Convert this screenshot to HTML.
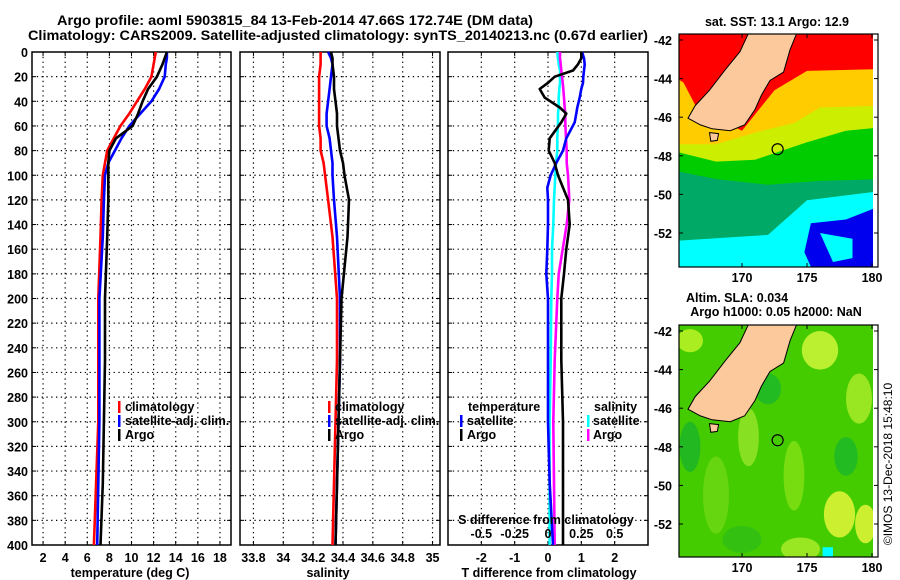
<!DOCTYPE html>
<html><head><meta charset="utf-8"><style>
body{margin:0;background:#fff}
svg{display:block;font-family:"Liberation Sans",sans-serif;font-weight:bold}
</style></head><body>
<svg id="fig" width="900" height="580" viewBox="0 0 900 580" xmlns="http://www.w3.org/2000/svg">
<rect width="900" height="580" fill="#fff"/>
<text x="295" y="25" font-size="13.5" text-anchor="middle" textLength="476" lengthAdjust="spacingAndGlyphs">Argo profile: aoml 5903815_84 13-Feb-2014 47.66S 172.74E (DM data)</text>
<text x="338" y="40" font-size="13.5" text-anchor="middle" textLength="620" lengthAdjust="spacingAndGlyphs">Climatology: CARS2009. Satellite-adjusted climatology: synTS_20140213.nc (0.67d earlier)</text>
</svg>
<script>
const depths=[0,5,10,20,30,40,50,60,70,80,90,100,120,150,200,250,300,350,400];
const tClim=[12.2,12.1,12.0,11.8,11.2,10.5,9.8,9.0,8.4,7.8,7.6,7.4,7.3,7.2,7.0,7.0,7.0,6.8,6.6];
const tSat=[13.2,13.2,13.1,13.0,12.5,11.8,10.8,9.8,9.1,8.5,7.9,7.6,7.5,7.4,7.1,7.1,7.1,7.0,6.9];
const tArgo=[13.2,13.0,12.8,12.3,11.5,11.0,10.6,10.1,8.6,8.0,7.9,7.9,7.9,7.8,7.6,7.6,7.5,7.4,7.2];
const sClim=[34.25,34.25,34.25,34.24,34.24,34.24,34.24,34.24,34.25,34.25,34.27,34.28,34.30,34.33,34.36,34.36,34.35,34.34,34.33];
const sSat=[34.30,34.32,34.33,34.32,34.31,34.30,34.29,34.29,34.31,34.32,34.33,34.33,34.34,34.36,34.38,34.38,34.37,34.36,34.35];
const sArgo=[34.32,34.33,34.33,34.34,34.34,34.35,34.36,34.36,34.37,34.38,34.40,34.41,34.44,34.43,34.39,34.38,34.37,34.36,34.35];
const dDepths=[0,5,10,15,20,25,30,37,45,50,57,70,80,90,100,110,120,140,160,180,200,250,300,350,400];
const dTArgo=[1.0,1.0,0.9,0.75,0.2,0,-0.25,-0.1,0.35,0.55,0.4,0.05,0.02,0.2,0.3,0.45,0.6,0.65,0.55,0.48,0.4,0.4,0.45,0.45,0.45];
const dTSat=[1.02,1.08,1.1,1.08,1.06,1.05,1.0,0.95,0.88,0.85,0.8,0.55,0.45,0.25,0.08,-0.02,0,0,-0.02,-0.05,0.0,0.0,0.0,0.05,0.15];
const dSArgo=[0.09,0.09,0.095,0.1,0.105,0.11,0.115,0.12,0.125,0.13,0.13,0.135,0.14,0.14,0.15,0.155,0.16,0.14,0.11,0.08,0.07,0.05,0.04,0.045,0.05];
const dSSat=[0.07,0.075,0.08,0.09,0.09,0.09,0.085,0.08,0.08,0.075,0.075,0.07,0.07,0.06,0.055,0.05,0.045,0.04,0.03,0.03,0.025,0.02,0.012,0.012,0.012];
const depthTicks=[0,20,40,60,80,100,120,140,160,180,200,220,240,260,280,300,320,340,360,380,400];
const tTicks=[2,4,6,8,10,12,14,16,18];
const sTicks=["33.8","34","34.2","34.4","34.6","34.8","35"];
const dTTicks=[-2,-1,0,1,2];
const dSTicks=["-0.5","-0.25","0","0.25","0.5"];
const latTicks=[-42,-44,-46,-48,-50,-52];
const lonTicks=[170,175,180];

const NS="http://www.w3.org/2000/svg";
const svg=document.getElementById('fig');
function mk(tag,attrs,parent){const e=document.createElementNS(NS,tag);for(const k in attrs)e.setAttribute(k,attrs[k]);(parent||svg).appendChild(e);return e;}
function txt(s,x,y,size,anchor,parent){const e=mk('text',{x:x,y:y,'font-size':size,'text-anchor':anchor||'middle'},parent);e.textContent=s;return e;}

const Y0=52,Y1=545;
const yD=d=>Y0+d/400*(Y1-Y0);
function panel(name,x0,x1,dom,xt,xtl,showY){
  const g=mk('g',{});
  
  
  const xs=v=>x0+(v-dom[0])/(dom[1]-dom[0])*(x1-x0);
  depthTicks.forEach(d=>{
    if(d>0&&d<400){const l=mk('line',{x1:x0,x2:x1,y1:yD(d),y2:yD(d),stroke:'#000','stroke-width':1.2,'stroke-dasharray':'1.3,3.5'},g);
    
    }
    mk('line',{x1:x0,x2:x0+4,y1:yD(d),y2:yD(d),stroke:'#000'},g);
    mk('line',{x1:x1-4,x2:x1,y1:yD(d),y2:yD(d),stroke:'#000'},g);
    if(showY){const t=txt(String(d),28,yD(d)+5,12.5,'end',g);
      
      }
  });
  xt.forEach((v,i)=>{
    const x=xs(Number(v));
    const l=mk('line',{x1:x,x2:x,y1:Y0,y2:Y1,stroke:'#000','stroke-width':1.2,'stroke-dasharray':'1.3,3.5'},g);
    
    
    mk('line',{x1:x,x2:x,y1:Y1-4,y2:Y1,stroke:'#000'},g);
    mk('line',{x1:x,x2:x,y1:Y0,y2:Y0+4,stroke:'#000'},g);
    if(xtl){const t=txt(String(xtl[i]),x,562,12.5,'middle',g);
      
      }
  });
  const r=mk('rect',{x:x0,y:Y0,width:x1-x0,height:Y1-Y0,fill:'none',stroke:'#000','stroke-width':1.5},g);
  
  
  return {g,xs};
}
function series(p,name,ds,vals,color,scale){
  const pts=ds.map((d,i)=>p.xs(vals[i]*(scale||1)).toFixed(1)+','+yD(d).toFixed(1)).join(' ');
  const l=mk('polyline',{points:pts,fill:'none',stroke:color,'stroke-width':2.6,'stroke-linejoin':'round'},p.g);
  
  
}
function legend(p,items,mx,tx,y0,name){
  items.forEach((it,i)=>{
    const y=y0+i*14;
    const m=mk('rect',{x:mx,y:y-10,width:2.5,height:12,fill:it[1]},p.g);
    
    
    const t=txt(it[0],tx,y,12.5,'start',p.g);
    
    
  });
}
// Panel 1
const p1=panel('temperature-panel',32,231,[1,19],tTicks,tTicks,true);
series(p1,'temperature-climatology',depths,tClim,'#ff0000');
series(p1,'temperature-satellite-adj',depths,tSat,'#0000ff');
series(p1,'temperature-argo',depths,tArgo,'#000');
legend(p1,[['climatology','#f00'],['satellite-adj. clim.','#00f'],['Argo','#000']],118,125,411,'temp-legend');
let t=txt('temperature (deg C)',130,577,12.5,'middle');


// Panel 2
const p2=panel('salinity-panel',240,440,[33.71,35.05],sTicks,sTicks,false);
series(p2,'salinity-climatology',depths,sClim,'#ff0000');
series(p2,'salinity-satellite-adj',depths,sSat,'#0000ff');
series(p2,'salinity-argo',depths,sArgo,'#000');
legend(p2,[['climatology','#f00'],['satellite-adj. clim.','#00f'],['Argo','#000']],328,335,411,'sal-legend');
t=txt('salinity',328,577,12.5,'middle');


// Panel 3
const p3=panel('difference-panel',448,648,[-3,3],dTTicks,dTTicks,false);
series(p3,'salinity-diff-satellite',dDepths,dSSat,'#00ffff',4);
series(p3,'salinity-diff-argo',dDepths,dSArgo,'#ff00ff',4);
series(p3,'temperature-diff-satellite',dDepths,dTSat,'#0000ff');
series(p3,'temperature-diff-argo',dDepths,dTArgo,'#000');
t=txt('temperature',468,411,12.5,'start',p3.g);


t=txt('salinity',594,411,12.5,'start',p3.g);


legend(p3,[['satellite','#00f'],['Argo','#000']],460,467,425,'tdiff-legend');
legend(p3,[['satellite','#0ff'],['Argo','#f0f']],587,593,425,'sdiff-legend');
t=txt('S difference from climatology',546,524,12.5,'middle',p3.g);


dSTicks.forEach(v=>{const tt=txt(v,p3.xs(Number(v)*4),538,12.5,'middle',p3.g);
  
  });
t=txt('T difference from climatology',549,577,12.5,'middle');



// Maps
const land=[[170.6,-41.5],[174.3,-41.5],[173.7,-42.5],[173.2,-43.66],[172.15,-44.1],[171.5,-44.85],[171,-45.6],[170.2,-46.4],[169.1,-46.7],[167.7,-46.6],[166.8,-46.4],[165.85,-46.05],[166.4,-45.4],[167.5,-44.6],[168.7,-43.55],[169.85,-42.6]];
const stewart=[[167.5,-46.8],[168.2,-46.85],[168.1,-47.2],[167.6,-47.25]];
function map(name,top,bot,layers,latLabels){
  const g=mk('g',{});
  
  
  const x0=679,x1=878,x1d=873;
  const lx=lon=>742+(lon-170)*13;
  const ly=lat=>top+6+(-42-lat)*19.3;
  const cid=name+'-clip';
  const cp=mk('clipPath',{id:cid},g);mk('rect',{x:x0,y:top,width:x1d-x0,height:bot-top},cp);
  const inner=mk('g',{'clip-path':'url(#'+cid+')'},g);
  layers(inner,lx,ly);
  const poly=(pts,fill,n)=>{const p=mk('polygon',{points:pts.map(q=>lx(q[0]).toFixed(1)+','+ly(q[1]).toFixed(1)).join(' '),fill:fill,stroke:'#000','stroke-width':1},inner);
    
    };
  poly(land,'#fcc99c','land-south-island');
  poly(stewart,'#fcc99c','land-stewart-island');
  const c=mk('circle',{cx:lx(172.74),cy:ly(-47.66),r:5.5,fill:'none',stroke:'#000','stroke-width':1.2},inner);
  
  
  const f=mk('rect',{x:x0,y:top,width:x1-x0,height:bot-top,fill:'none',stroke:'#000','stroke-width':1.2},g);
  
  
  latTicks.forEach(v=>{const y=ly(v);mk('line',{x1:x0,x2:x0+4,y1:y,y2:y,stroke:'#000'},g);mk('line',{x1:x1-4,x2:x1,y1:y,y2:y,stroke:'#000'},g);
    const tt=txt(String(v),672,y+5,12.5,'end',g);
    
    });
  lonTicks.forEach(v=>{const x=lx(v);mk('line',{x1:x,x2:x,y1:bot-4,y2:bot,stroke:'#000'},g);mk('line',{x1:x,x2:x,y1:top,y2:top+4,stroke:'#000'},g);
    const tt=txt(String(v),x,bot+15,12.5,'middle',g);
    
    });
}
function band(g,lx,ly,pts,fill,n){const p=mk('polygon',{points:pts.map(q=>lx(q[0]).toFixed(1)+','+ly(q[1]).toFixed(1)).join(' '),fill:fill},g);
  
  }
map('sst-map',34,267,(g,lx,ly)=>{
  band(g,lx,ly,[[165,-41],[181,-41],[181,-54.5],[165,-54.5]],'#00ffff','sst-cyan');
  band(g,lx,ly,[[165,-47.9],[181,-48.5],[181,-49.8],[175,-50.3],[172,-52.1],[165,-52.4]],'#00aa66','sst-teal');
  band(g,lx,ly,[[165,-46],[181,-46],[181,-49.2],[176,-49.3],[172,-49.5],[168,-49.2],[165,-48.8]],'#00cc00','sst-green');
  band(g,lx,ly,[[165,-45],[181,-45.3],[181,-46.5],[178,-46.7],[175,-47.3],[171,-48.2],[168,-48.3],[165,-47.8]],'#ccee00','sst-yellow-green');
  band(g,lx,ly,[[165,-43],[181,-43],[181,-45.4],[176,-45.5],[174,-46.3],[171,-46.8],[168,-47.4],[165,-47.4]],'#ffcc00','sst-yellow');
  band(g,lx,ly,[[165,-41],[181,-41],[181,-43.5],[175,-43.6],[172.5,-44.6],[170,-46.7],[166.5,-45.5],[165.5,-44.2],[165,-44]],'#ff0000','sst-red');
  band(g,lx,ly,[[175.3,-51.5],[178,-51.3],[181,-50.5],[181,-54.5],[175.8,-54.5],[174.8,-53]],'#0000ee','sst-blue');
  band(g,lx,ly,[[176,-52],[178.5,-52.3],[178.5,-53.3],[177,-53.5]],'#00ffff','sst-cyan-patch');
},latTicks);
map('sla-map',325,557,(g,lx,ly)=>{
  band(g,lx,ly,[[165,-41],[181,-41],[181,-54.5],[165,-54.5]],'#44cc00','sla-base');
  const patches=[[166,-42.5,1,0.6,'#aaee22'],[176,-43,1.4,1,'#bbf030'],[179,-45.5,1,1.3,'#99e622'],[170.5,-47.5,0.8,1.5,'#88e022'],[177.5,-51.5,1.2,1.2,'#ccf030'],[179.5,-52,0.8,1,'#ccf030'],[174.5,-53.3,1.5,0.6,'#99e622'],[168,-50.5,1,2,'#66d611'],[174,-49.5,0.8,1.8,'#77dd11'],[178,-48.5,0.9,1,'#22bb22'],[166,-48,0.8,1.3,'#22b822'],[172,-45,1,0.8,'#22bb22'],[170,-52.8,1.5,0.7,'#33c011']];
  patches.forEach(p=>{const e=mk('ellipse',{cx:lx(p[0]),cy:ly(p[1]),rx:p[2]*13,ry:p[3]*19.3,fill:p[4]},g);
    
    });
  band(g,lx,ly,[[176.2,-53.2],[177,-53.2],[177,-54],[176.2,-54]],'#00ffff','sla-cyan-spot');
},latTicks);
t=txt('sat. SST: 13.1 Argo: 12.9',777,26,12.5,'middle');


t=txt('Altim. SLA: 0.034',737,302,12.5,'middle');


t=txt('Argo h1000: 0.05 h2000: NaN',776,316,12.5,'middle');


t=txt('©IMOS 13-Dec-2018 15:48:10',0,0,12,'middle');
t.setAttribute('transform','translate(892,464) rotate(-90)');
t.setAttribute('font-weight','normal');


</script>
</body></html>
